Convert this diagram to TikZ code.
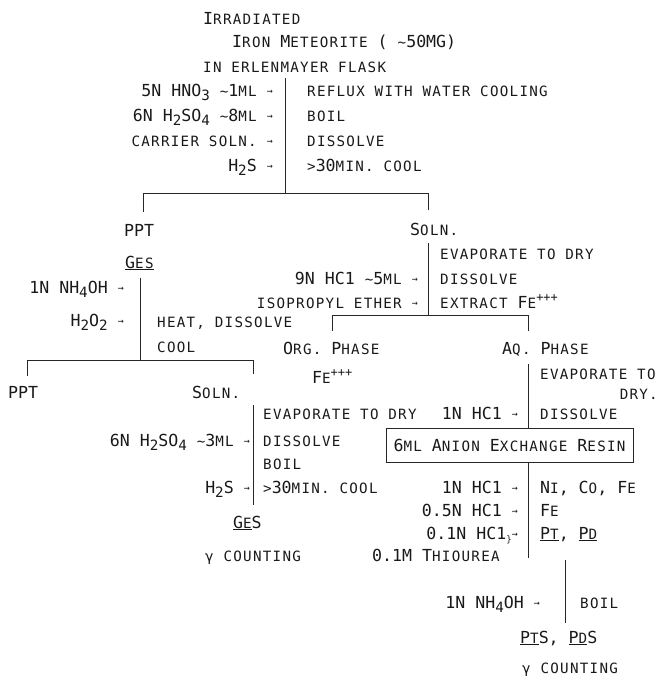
\documentclass[tikz,border=0pt]{standalone}
\usepackage{fontspec}
\newfontfamily\Lfont{DejaVu Sans Mono}
\newfontfamily\Sfont[LetterSpace=9]{DejaVu Sans Mono}
\newcommand\Lg{\Lfont\fontsize{16.6}{20}\selectfont}
\newcommand\sm[1]{{\Sfont\fontsize{14.2}{17}\selectfont #1}}
\newcommand\subx[1]{\raisebox{-4.5pt}{\sm{#1}}}
\newcommand\supx[1]{\raisebox{6.5pt}{{\Lfont\fontsize{12}{12}\selectfont #1}}}
\newcommand\ar{{\Lfont\fontsize{10}{10}\selectfont\raisebox{1.5pt}{→}}}
\newcommand\tild{\sm{\textasciitilde}}
\tikzset{
 lt/.style={anchor=base west, inner sep=0pt, font=\Lg, text=black!90},
 rt/.style={anchor=base east, inner sep=0pt, font=\Lg, text=black!90},
 ln/.style={line width=0.7pt, black!85},
 resin/.style={draw, line width=0.7pt, black!85, text=black!90, minimum width=247pt, minimum height=34pt, inner sep=0pt, font=\Lg}
}
\begin{document}
\begin{tikzpicture}[x=1pt,y=-1pt]
\useasboundingbox (0,0) rectangle (664,677);
% ---------- top ----------
\node[lt] (irr) at (203,25) {I\sm{RRADIATED}};
\node[lt] (iron) at (232,48) {I\sm{RON} M\sm{ETEORITE} ( \tild50MG)};
\node[lt] (flask) at (203,73) {\sm{IN ERLENMAYER FLASK}};
\node[rt] (a1) at (273,96) {5N HNO\subx{3} \tild1\sm{ML} \ar};
\node[rt] (a2) at (273,121) {6N H\subx{2}SO\subx{4} \tild8\sm{ML} \ar};
\node[rt] (a3) at (273,146) {\sm{CARRIER SOLN.} \ar};
\node[rt] (a4) at (273,171) {H\subx{2}S \ar};
\node[lt] (b1) at (307,96) {\sm{REFLUX WITH WATER COOLING}};
\node[lt] (b2) at (307,121) {\sm{BOIL}};
\node[lt] (b3) at (307,146) {\sm{DISSOLVE}};
\node[lt] (b4) at (307,171) {\sm{>}30\sm{MIN. COOL}};
\coordinate (v1t) at (285,78);
\coordinate (v1b) at (285,193);
\draw[ln] (v1t) -- (v1b);
\coordinate (h1l) at (143,193);
\coordinate (h1r) at (428,193);
\coordinate (h1ld) at (143,212);
\coordinate (h1rd) at (428,210);
\draw[ln] (h1ld) -- (h1l) -- (h1r) -- (h1rd);
% ---------- left subtree ----------
\node[lt] (ppt1) at (124,236) {PPT};
\node[lt] (ges1) at (125,268) {\underline{G\sm{ES}}};
\node[rt] (c1) at (124,293) {1N NH\subx{4}OH \ar};
\node[rt] (c2) at (124,326) {H\subx{2}O\subx{2} \ar};
\node[lt] (d1) at (157,327) {\sm{HEAT, DISSOLVE}};
\node[lt] (d2) at (157,352) {\sm{COOL}};
\coordinate (v2t) at (140,278);
\coordinate (v2b) at (140,360);
\draw[ln] (v2t) -- (v2b);
\coordinate (h2l) at (27,360);
\coordinate (h2r) at (253,360);
\coordinate (h2ld) at (27,376);
\coordinate (h2rd) at (253,374);
\draw[ln] (h2ld) -- (h2l) -- (h2r) -- (h2rd);
\node[lt] (ppt2) at (8,398) {PPT};
\node[lt] (soln2) at (192,398) {S\sm{OLN.}};
\coordinate (v3t) at (253,405);
\coordinate (v3b) at (253,505);
\draw[ln] (v3t) -- (v3b);
\node[lt] (e1) at (263,419) {\sm{EVAPORATE TO DRY}};
\node[rt] (f1) at (250,446) {6N H\subx{2}SO\subx{4} \tild3\sm{ML} \ar};
\node[lt] (e2) at (263,446) {\sm{DISSOLVE}};
\node[lt] (e3) at (263,469) {\sm{BOIL}};
\node[rt] (f2) at (250,493) {H\subx{2}S \ar};
\node[lt] (e4) at (263,493) {\sm{>}30\sm{MIN. COOL}};
\node[lt] (ges2) at (233,528) {\underline{G\sm{E}}S};
\node[lt] (cnt1) at (205,561) {\sm{γ COUNTING}};
% ---------- right subtree ----------
\node[lt] (soln1) at (410,235) {S\sm{OLN.}};
\coordinate (v4t) at (428,243);
\coordinate (v4b) at (428,315);
\draw[ln] (v4t) -- (v4b);
\node[lt] (g1) at (440,259) {\sm{EVAPORATE TO DRY}};
\node[rt] (k1) at (418,284) {9N HC1 \tild5\sm{ML} \ar};
\node[lt] (g2) at (440,284) {\sm{DISSOLVE}};
\node[rt] (k2) at (418,308) {\sm{ISOPROPYL ETHER} \ar};
\node[lt] (g3) at (440,308) {\sm{EXTRACT} F\sm{E}\supx{+++}};
\coordinate (h3l) at (332,315);
\coordinate (h3r) at (528,315);
\coordinate (h3ld) at (332,331);
\coordinate (h3rd) at (528,331);
\draw[ln] (h3ld) -- (h3l) -- (h3r) -- (h3rd);
\node[lt] (org) at (283,354) {O\sm{RG.} P\sm{HASE}};
\node[lt] (fe1) at (312,383) {F\sm{E}\supx{+++}};
\node[lt] (aq) at (502,354) {A\sm{Q.} P\sm{HASE}};
\node[lt] (m1) at (540,379) {\sm{EVAPORATE TO}};
\node[rt] (m2) at (658,399) {\sm{DRY.}};
\node[rt] (n1) at (518,419) {1N HC1 \ar};
\node[lt] (m3) at (540,419) {\sm{DISSOLVE}};
\node[resin] (resin) at (509.5,445) {6\sm{ML} A\sm{NION} E\sm{XCHANGE} R\sm{ESIN}};
\coordinate (v5t) at (528,364);
\draw[ln] (v5t) -- (v5t |- resin.north);
\coordinate (v6b) at (528,558);
\draw[ln] (v6b |- resin.south) -- (v6b);
\node[rt] (n2) at (518,493) {1N HC1 \ar};
\node[lt] (p1) at (540,493) {N\sm{I}, C\sm{O}, F\sm{E}};
\node[rt] (n3) at (518,516) {0.5N HC1 \ar};
\node[lt] (p2) at (540,516) {F\sm{E}};
\node[rt] (n4) at (518,539) {0.1N HC1\raisebox{-3pt}{{\Lfont\fontsize{9}{9}\selectfont\}}}\ar};
\node[lt] (p3) at (540,539) {\underline{P\sm{T}}, \underline{P\sm{D}}};
\node[lt] (thio) at (372,561) {0.1M T\sm{HIOUREA}};
\coordinate (v7t) at (565,560);
\coordinate (v7b) at (565,623);
\draw[ln] (v7t) -- (v7b);
\node[rt] (q1) at (540,608) {1N NH\subx{4}OH \ar};
\node[lt] (q2) at (580,608) {\sm{BOIL}};
\node[lt] (pts) at (520,643) {\underline{P\sm{T}}S, \underline{P\sm{D}}S};
\node[lt] (cnt2) at (522,673) {\sm{γ COUNTING}};
\end{tikzpicture}
\end{document}
